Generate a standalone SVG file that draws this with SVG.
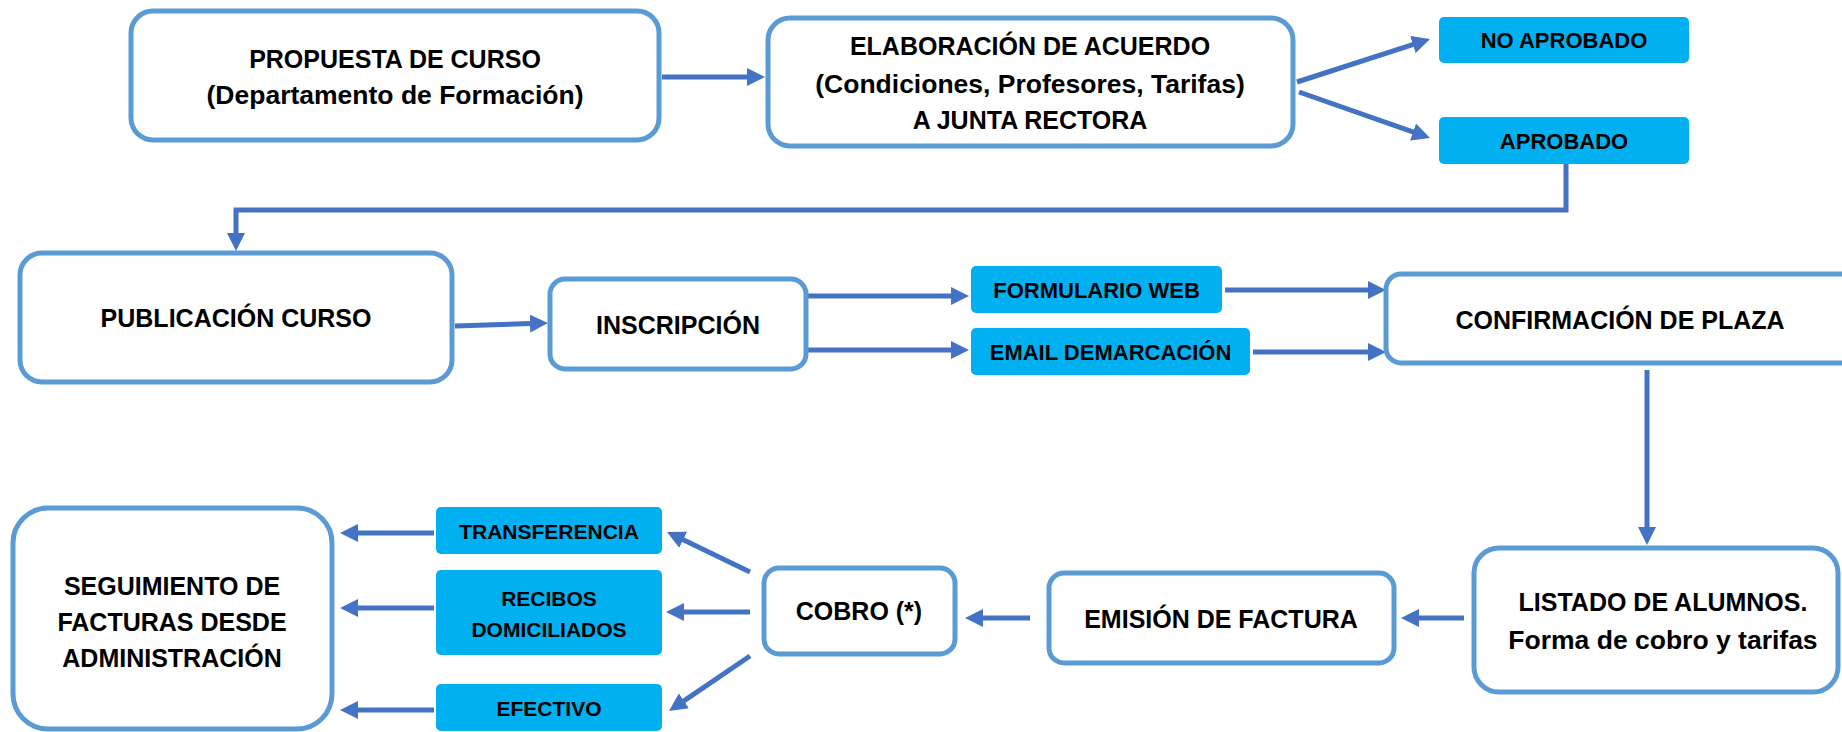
<svg xmlns="http://www.w3.org/2000/svg" width="1842" height="732" viewBox="0 0 1842 732">
<style>
.node{fill:#ffffff;stroke:#5B9BD5;stroke-width:5}
.tag{fill:#00B0F0}
.t{font-family:"Liberation Sans",Arial,sans-serif;font-weight:bold;font-size:25px;fill:#000;text-anchor:middle}
.m{font-size:26.5px}
.s{font-family:"Liberation Sans",Arial,sans-serif;font-weight:bold;font-size:22px;fill:#000;text-anchor:middle}
.s2{font-size:21px}
.c{fill:none;stroke:#4472C4;stroke-width:5;marker-end:url(#ah)}
</style>
<defs>
<marker id="ah" markerUnits="userSpaceOnUse" markerWidth="18" markerHeight="18" refX="8" refY="9" orient="auto"><path d="M0,0 L18,9 L0,18 z" fill="#4472C4"/></marker>
</defs>
<rect width="1842" height="732" fill="#ffffff"/>
<g id="connectors">
<path class="c" d="M662,77 H755"/>
<path class="c" d="M1297,82 L1420.5,42.1"/>
<path class="c" d="M1299,92 L1420.6,134.7"/>
<path class="c" d="M1566,164 V210 H236 V241"/>
<path class="c" d="M455,326 L538,323.3"/>
<path class="c" d="M808,296 H959"/>
<path class="c" d="M808,350 H959"/>
<path class="c" d="M1225,290 H1376"/>
<path class="c" d="M1253,352 H1376"/>
<path class="c" d="M1647,370 V535"/>
<path class="c" d="M1464,618 H1411"/>
<path class="c" d="M1030,618 H975"/>
<path class="c" d="M750,572 L676,536.3"/>
<path class="c" d="M750,612 H676"/>
<path class="c" d="M750,656 L677.3,705.4"/>
<path class="c" d="M434,533 H350"/>
<path class="c" d="M434,608 H350"/>
<path class="c" d="M434,710 H350"/>
</g>
<g id="propuesta"><rect class="node" x="131" y="11" width="528" height="129" rx="22"/><text class="t" x="395" y="68">PROPUESTA DE CURSO</text><text class="t m" x="395" y="104">(Departamento de Formación)</text></g>
<g id="elaboracion"><rect class="node" x="768" y="18" width="525" height="128" rx="22"/><text class="t" x="1030" y="55">ELABORACIÓN DE ACUERDO</text><text class="t m" x="1030" y="93">(Condiciones, Profesores, Tarifas)</text><text class="t" x="1030" y="129">A JUNTA RECTORA</text></g>
<g id="no-aprobado"><rect class="tag" x="1439" y="17" width="250" height="46" rx="5"/><text class="s" x="1564" y="48">NO APROBADO</text></g>
<g id="aprobado"><rect class="tag" x="1439" y="117" width="250" height="47" rx="5"/><text class="s" x="1564" y="149">APROBADO</text></g>
<g id="publicacion"><rect class="node" x="20" y="253" width="432" height="129" rx="22"/><text class="t" x="236" y="327">PUBLICACIÓN CURSO</text></g>
<g id="inscripcion"><rect class="node" x="550" y="279" width="256" height="90" rx="15"/><text class="t" x="678" y="334">INSCRIPCIÓN</text></g>
<g id="formulario"><rect class="tag" x="971" y="266" width="251" height="47" rx="5"/><text class="s" x="1096.5" y="298">FORMULARIO WEB</text></g>
<g id="email"><rect class="tag" x="971" y="328" width="279" height="47" rx="5"/><text class="s" x="1110.5" y="359.5">EMAIL DEMARCACIÓN</text></g>
<g id="confirmacion"><rect class="node" x="1386" y="274" width="500" height="89" rx="15"/><text class="t" x="1620" y="329">CONFIRMACIÓN DE PLAZA</text></g>
<g id="listado"><rect class="node" x="1474" y="548" width="364" height="144" rx="25"/><text class="t" x="1663" y="611">LISTADO DE ALUMNOS.</text><text class="t m" x="1663" y="649">Forma de cobro y tarifas</text></g>
<g id="emision"><rect class="node" x="1049" y="573" width="345" height="90" rx="15"/><text class="t" x="1221" y="628">EMISIÓN DE FACTURA</text></g>
<g id="cobro"><rect class="node" x="764" y="568" width="191" height="86" rx="15"/><text class="t" x="859" y="620">COBRO (*)</text></g>
<g id="transferencia"><rect class="tag" x="436" y="507" width="226" height="47" rx="5"/><text class="s s2" x="549" y="539">TRANSFERENCIA</text></g>
<g id="recibos"><rect class="tag" x="436" y="570" width="226" height="85" rx="5"/><text class="s s2" x="549" y="606">RECIBOS</text><text class="s s2" x="549" y="637">DOMICILIADOS</text></g>
<g id="efectivo"><rect class="tag" x="436" y="684" width="226" height="47" rx="5"/><text class="s s2" x="549" y="716">EFECTIVO</text></g>
<g id="seguimiento"><rect class="node" x="13" y="508" width="319" height="221" rx="35"/><text class="t" x="172" y="595">SEGUIMIENTO DE</text><text class="t" x="172" y="631">FACTURAS DESDE</text><text class="t" x="172" y="667">ADMINISTRACIÓN</text></g>
</svg>
